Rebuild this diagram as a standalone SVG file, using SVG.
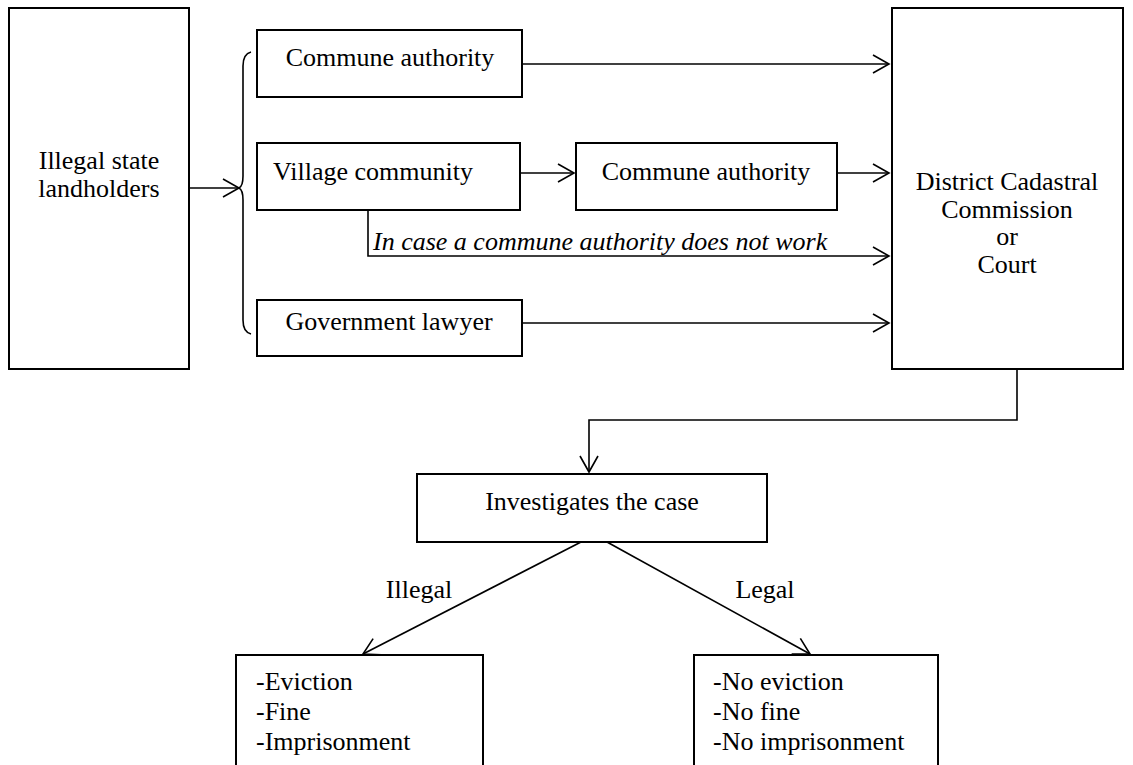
<svg xmlns="http://www.w3.org/2000/svg" width="1133" height="765" viewBox="0 0 1133 765">
<defs>
<marker id="ah" markerUnits="userSpaceOnUse" markerWidth="20" markerHeight="20" refX="17" refY="10" orient="auto">
<path d="M1,1 L17,10 L1,19" fill="none" stroke="#000" stroke-width="1.6"/>
</marker>
<style>
.box{fill:#fff;stroke:#000;stroke-width:2}
.ln{fill:none;stroke:#000;stroke-width:1.6}
.arr{fill:none;stroke:#000;stroke-width:1.6;marker-end:url(#ah)}
text{font-family:"Liberation Serif","Times New Roman",serif;font-size:26px;fill:#000}
.c{text-anchor:middle}
.i{font-style:italic}
</style>
</defs>
<rect width="1133" height="765" fill="#fff"/>
<g id="connectors">
<line class="arr" x1="189" y1="188" x2="239" y2="188"/>
<path class="ln" d="M251,52 Q243,54 243,66 L243,176 Q243,186 239,188 Q243,190 243,200 L243,320 Q243,332 251,334"/>
<line class="arr" x1="522" y1="64" x2="889" y2="64"/>
<line class="arr" x1="520" y1="173" x2="574" y2="173"/>
<line class="arr" x1="837" y1="173" x2="889" y2="173"/>
<polyline class="arr" points="368,210 368,256 889,256"/>
<line class="arr" x1="522" y1="323" x2="889" y2="323"/>
<polyline class="arr" points="1017,369 1017,420 589,420 589,472"/>
<line class="arr" x1="581" y1="542" x2="363" y2="654"/>
<line class="arr" x1="607" y1="542" x2="810" y2="654"/>
</g>
<g id="illegal-holders">
<rect class="box" x="9" y="8" width="180" height="361"/>
<text class="c" x="99" y="169">Illegal state</text>
<text class="c" x="99" y="197">landholders</text>
</g>
<g id="commune-authority-1">
<rect class="box" x="257" y="30" width="265" height="67"/>
<text class="c" x="390" y="66">Commune authority</text>
</g>
<g id="village-community">
<rect class="box" x="257" y="143" width="263" height="67"/>
<text class="c" x="373" y="180">Village community</text>
</g>
<g id="commune-authority-2">
<rect class="box" x="576" y="143" width="261" height="67"/>
<text class="c" x="706" y="180">Commune authority</text>
</g>
<g id="note">
<text class="i" x="373" y="250">In case a commune authority does not work</text>
</g>
<g id="government-lawyer">
<rect class="box" x="257" y="300" width="265" height="56"/>
<text class="c" x="389" y="330">Government lawyer</text>
</g>
<g id="district">
<rect class="box" x="892" y="8" width="231" height="361"/>
<text class="c" x="1007" y="190">District Cadastral</text>
<text class="c" x="1007" y="218">Commission</text>
<text class="c" x="1007" y="245">or</text>
<text class="c" x="1007" y="273">Court</text>
</g>
<g id="investigates">
<rect class="box" x="417" y="474" width="350" height="68"/>
<text class="c" x="592" y="510">Investigates the case</text>
</g>
<g id="labels">
<text class="c" x="419" y="598">Illegal</text>
<text class="c" x="765" y="598">Legal</text>
</g>
<g id="illegal-outcome">
<rect class="box" x="236" y="655" width="247" height="125"/>
<text x="256" y="690">-Eviction</text>
<text x="256" y="720">-Fine</text>
<text x="256" y="750">-Imprisonment</text>
</g>
<g id="legal-outcome">
<rect class="box" x="694" y="655" width="244" height="125"/>
<text x="713" y="690">-No eviction</text>
<text x="713" y="720">-No fine</text>
<text x="713" y="750">-No imprisonment</text>
</g>
</svg>
